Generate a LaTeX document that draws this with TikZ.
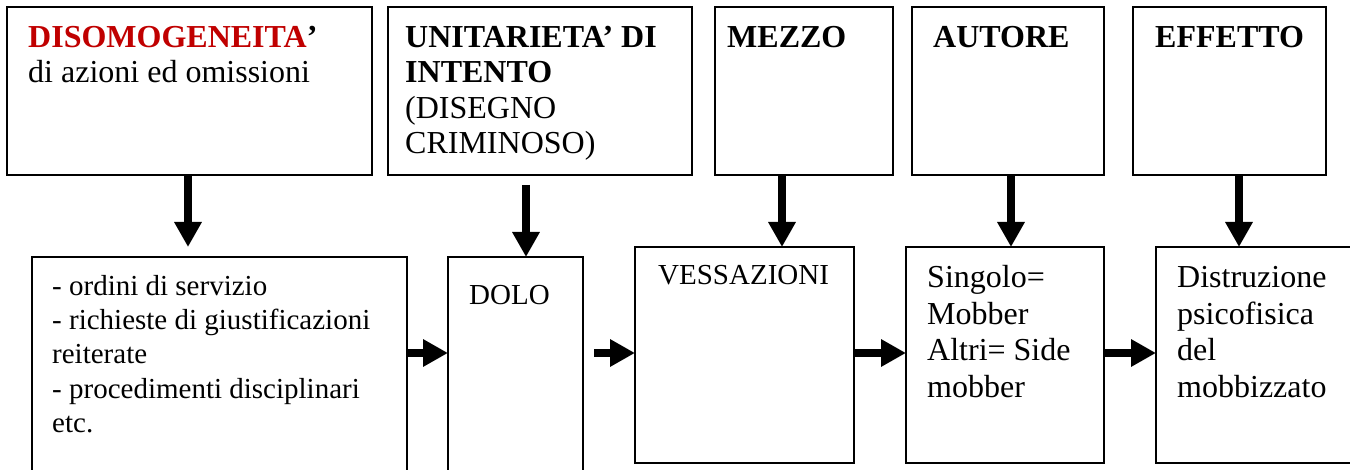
\documentclass[tikz,border=0pt]{standalone}
\usepackage{fontspec}
\setmainfont{Liberation Serif}
\usetikzlibrary{arrows.meta}
\definecolor{dred}{RGB}{192,0,0}
\begin{document}
\begin{tikzpicture}[x=1pt,y=-1pt,
  box/.style={draw, line width=1.8pt, rectangle, inner sep=0pt, outer sep=0pt, anchor=north west},
  lbl/.style={anchor=north west, inner sep=0pt, align=left},
  big/.style={font=\fontsize{32}{35.5}\selectfont},
  bigr/.style={font=\fontsize{32}{36.7}\selectfont},
  small/.style={font=\fontsize{29}{34.3}\selectfont},
  arr/.style={line width=7.5pt, -{Triangle[length=25pt,width=26pt]}}]
\useasboundingbox (0,0) rectangle (1350,470);
\clip (0,0) rectangle (1350,470);
% top boxes
\node[box, minimum width=365pt, minimum height=168pt] (t1) at (7,7) {};
\node[box, minimum width=304pt, minimum height=168pt] (t2) at (388,7) {};
\node[box, minimum width=178pt, minimum height=168pt] (t3) at (715,7) {};
\node[box, minimum width=192pt, minimum height=168pt] (t4) at (912,7) {};
\node[box, minimum width=193pt, minimum height=168pt] (t5) at (1133,7) {};
% bottom boxes
\node[box, minimum width=375pt, minimum height=223pt] (b1) at (32,257) {};
\node[box, minimum width=135pt, minimum height=223pt] (b2) at (448,257) {};
\node[box, minimum width=219pt, minimum height=216pt] (b3) at (635,247) {};
\node[box, minimum width=198pt, minimum height=216pt] (b4) at (906,247) {};
\node[box, minimum width=204pt, minimum height=216pt] (b5) at (1156,247) {};
% texts
\node[lbl, big] (t1l) at (28,26) {\textbf{\textcolor{dred}{DISOMOGENEITA}’}\\di azioni ed omissioni};
\node[lbl, big] (t2l) at (405,26) {\textbf{UNITARIETA’ DI}\\\textbf{INTENTO}\\(DISEGNO\\CRIMINOSO)};
\node[lbl, big] (t3l) at (727,26) {\textbf{MEZZO}};
\node[lbl, big] (t4l) at (933,26) {\textbf{AUTORE}};
\node[lbl, big] (t5l) at (1155,26) {\textbf{EFFETTO}};
\node[lbl, small] (b1l) at (52,275) {- ordini di servizio\\- richieste di giustificazioni\\reiterate\\- procedimenti disciplinari\\etc.};
\node[lbl, small] (b2l) at (469,285.5) {DOLO};
\node[lbl, small] (b3l) at (658,265.5) {VESSAZIONI};
\node[lbl, bigr] (b4l) at (927,265) {Singolo=\\Mobber\\Altri= Side\\mobber};
\node[lbl, bigr] (b5l) at (1177,266) {Distruzione\\psicofisica\\del\\mobbizzato};
% arrows down
\draw[arr, shorten >=10pt] ([xshift=-1.5pt]t1.south) -- ([xshift=-1.5pt]t1.south |- b1.north);
\draw[arr, shorten <=10pt] ([xshift=-14pt]t2.south) -- ([xshift=-14pt]t2.south |- b2.north);
\draw[arr] ([xshift=-22pt]t3.south) -- ([xshift=-22pt]t3.south |- b3.north);
\draw[arr] ([xshift=3pt]t4.south) -- ([xshift=3pt]t4.south |- b4.north);
\draw[arr] ([xshift=9.5pt]t5.south) -- ([xshift=9.5pt]t5.south |- b5.north);
% arrows right
\coordinate (mid) at (0,353);
\draw[arr] (b1.east |- mid) -- (b2.west |- mid);
\draw[arr, shorten <=11pt] (b2.east |- mid) -- (b3.west |- mid);
\draw[arr] (b3.east |- mid) -- (b4.west |- mid);
\draw[arr] (b4.east |- mid) -- (b5.west |- mid);
\end{tikzpicture}
\end{document}
